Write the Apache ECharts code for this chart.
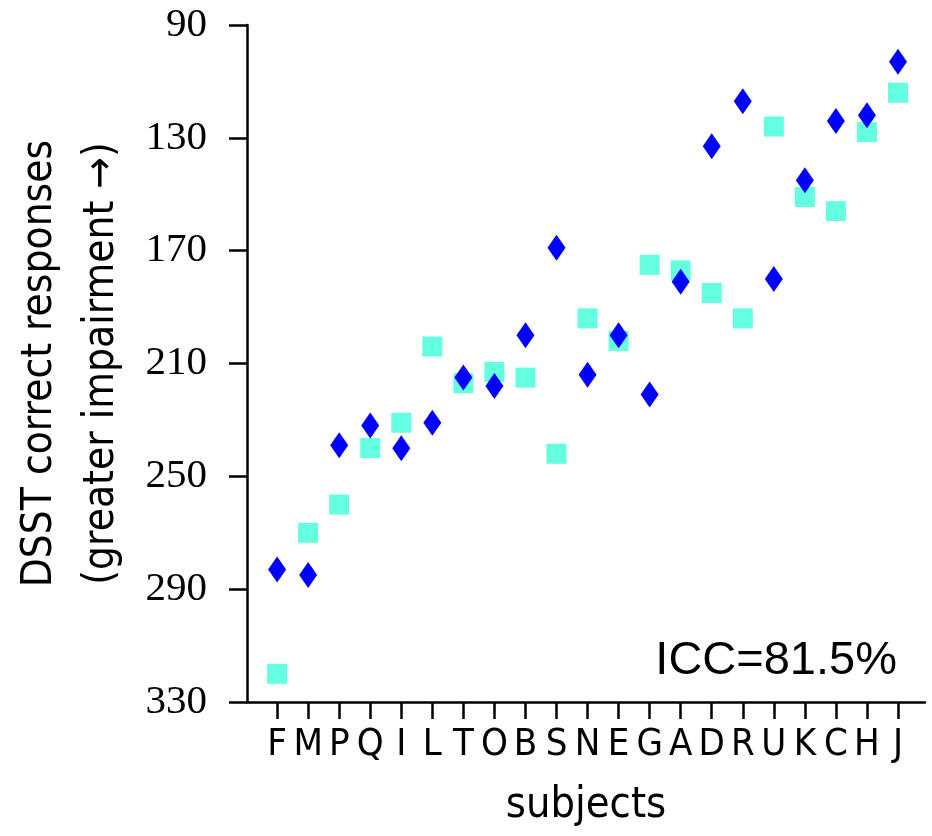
<!DOCTYPE html>
<html>
<head>
<meta charset="utf-8">
<script src="https://cdn.jsdelivr.net/npm/echarts@6/dist/echarts.min.js"></script>
<style>
html,body{margin:0;padding:0;background:#fff;}
#chart{width:932px;height:836px;}
</style>
</head>
<body>
<div id="chart"></div>
<script>
var categories = ['F','M','P','Q','I','L','T','O','B','S','N','E','G','A','D','R','U','K','C','H','J'];
var diamondValues = [283, 285, 239, 232, 240, 231, 215, 218, 200, 169, 214, 200, 221, 181, 133, 117, 180, 145, 124, 122, 103];
var squareValues  = [320, 270, 260, 240, 231, 204, 217, 213, 215, 242, 194, 202, 175, 177, 185, 194, 126, 151, 156, 128, 114];
var yTicks = [90, 130, 170, 210, 250, 290, 330];
var iccText = 'ICC=81.5%';

var sansFont = "'Liberation Sans Narrow', 'DejaVu Sans Condensed', Lato, sans-serif";
var idx = categories.map(function (c, i) { return i; });

var chart = echarts.init(document.getElementById('chart'), null, {renderer: 'canvas'});
chart.setOption({
  animation: false,
  backgroundColor: '#ffffff',
  grid: {left: 247, right: 7, top: 25, bottom: 134, containLabel: false, outerBoundsMode: 'none'},
  xAxis: {
    type: 'value',
    min: -0.97,
    max: 20.87,
    name: 'subjects',
    nameLocation: 'middle',
    nameGap: 82,
    nameTextStyle: {fontFamily: sansFont, fontSize: 43, color: '#000', verticalAlign: 'top'},
    axisLine: {show: true, onZero: false, lineStyle: {color: '#000', width: 2.5}},
    axisTick: {show: true, inside: false, length: 17, customValues: idx, lineStyle: {color: '#000', width: 2.5}},
    axisLabel: {
      show: true, margin: 24, customValues: idx,
      fontFamily: sansFont, fontSize: 38, color: '#000',
      formatter: function (v) { return categories[Math.round(v)]; }
    },
    splitLine: {show: false}
  },
  yAxis: {
    type: 'value',
    inverse: true,
    min: yTicks[0],
    max: yTicks[yTicks.length - 1],
    interval: 40,
    name: 'DSST correct responses\n(greater impairment \u2192)',
    nameLocation: 'middle',
    nameRotate: 90,
    nameGap: 114,
    nameTextStyle: {fontFamily: sansFont, fontSize: 42, color: '#000', lineHeight: 62, align: 'center'},
    axisLine: {show: true, onZero: false, lineStyle: {color: '#000', width: 2.5}},
    axisTick: {show: true, inside: false, length: 18, lineStyle: {color: '#000', width: 2.5}},
    axisLabel: {show: true, margin: 40, fontFamily: "'Liberation Serif', 'DejaVu Serif', serif", fontSize: 41, color: '#000'},
    splitLine: {show: false}
  },
  graphic: [{
    type: 'text',
    right: 35,
    top: 638,
    style: {text: iccText, fontFamily: "'Liberation Sans', Arial, sans-serif", fontSize: 47, fill: '#000'}
  }],
  series: [
    {
      type: 'scatter',
      name: 'square',
      symbol: 'rect',
      symbolSize: 20,
      itemStyle: {color: '#64ffe1', opacity: 1},
      data: squareValues.map(function (v, i) { return [i, v]; }),
      z: 2
    },
    {
      type: 'scatter',
      name: 'diamond',
      symbol: 'diamond',
      symbolSize: [18, 26],
      itemStyle: {color: '#0000ff', opacity: 1},
      data: diamondValues.map(function (v, i) { return [i, v]; }),
      z: 3
    }
  ]
});
</script>
</body>
</html>
